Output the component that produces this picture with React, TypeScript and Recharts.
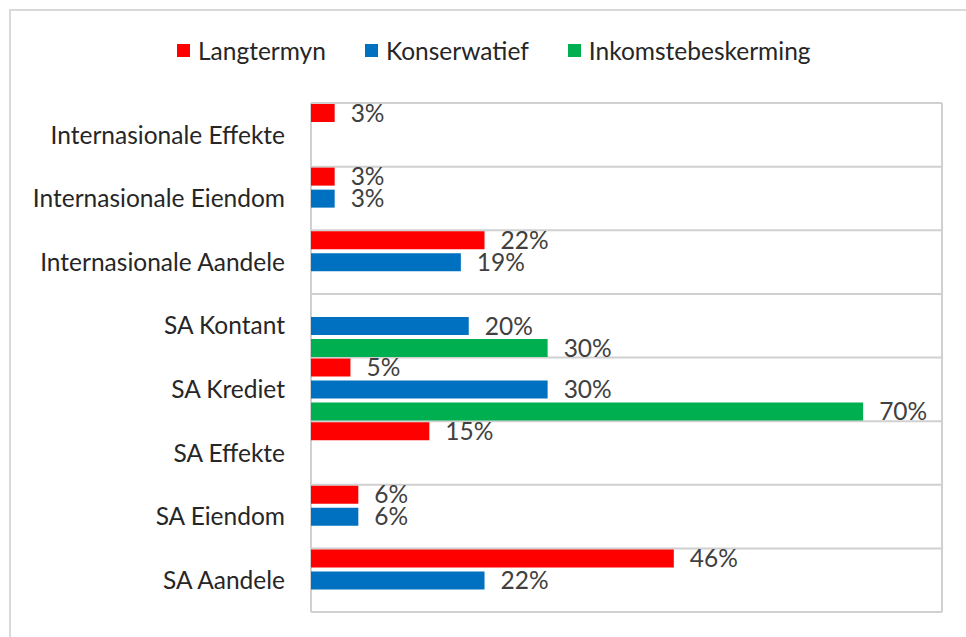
import React from 'react';
import { BarChart, Bar, XAxis, YAxis, CartesianGrid, LabelList } from 'recharts';

const categories = [
  'Internasionale Effekte',
  'Internasionale Eiendom',
  'Internasionale Aandele',
  'SA Kontant',
  'SA Krediet',
  'SA Effekte',
  'SA Eiendom',
  'SA Aandele',
];
const langtermyn = [3, 3, 22, null, 5, 15, 6, 46];
const konserwatief = [null, 3, 19, 20, 30, null, 6, 22];
const inkomstebeskerming = [null, null, null, 30, 70, null, null, null];

const seriesNames = ['Langtermyn', 'Konserwatief', 'Inkomstebeskerming'];
const seriesKeys = ['l', 'k', 'i'];
const seriesColors = ['#FF0000', '#0070C0', '#00B050'];

const data = categories.map((name, idx) => ({
  name,
  l: langtermyn[idx],
  k: konserwatief[idx],
  i: inkomstebeskerming[idx],
}));

const FONT = 'Lato, "Liberation Sans", sans-serif';
const FS = 24.5;
const GRID = '#d0d0d0';

const fmt = (v: any) => (v == null ? '' : `${v}%`);

const LegendBox = () => (
  <div
    style={{
      position: 'absolute',
      left: 177,
      top: 34,
      height: 32,
      display: 'flex',
      alignItems: 'center',
      fontFamily: FONT,
      fontSize: FS,
      color: '#262626',
      whiteSpace: 'nowrap',
    }}
  >
    {seriesNames.map((nm, idx) => (
      <div key={nm} style={{ display: 'flex', alignItems: 'center', marginRight: idx < 2 ? 39 : 0 }}>
        <span style={{ display: 'inline-block', width: 13, height: 13, background: seriesColors[idx], marginRight: 8 }} />
        <span>{nm}</span>
      </div>
    ))}
  </div>
);

export default function App() {
  const n = categories.length;
  return (
    <div style={{ position: 'absolute', left: 0, top: 0, width: 966, height: 637, overflow: 'hidden', background: '#fff' }}>
      <div style={{ position: 'absolute', left: 9, top: 9, width: 1000, height: 700, border: '2px solid #d9d9d9', boxSizing: 'border-box' }} />
      <div style={{ position: 'absolute', left: 0, top: 0 }}>
        <BarChart
          width={966}
          height={637}
          data={data}
          layout="vertical"
          margin={{ top: 103, right: 24, bottom: 25, left: 0 }}
          barCategoryGap={0}
          barGap={4}
          barSize={18}
        >
          <CartesianGrid
            stroke={GRID}
            strokeWidth={2}
            horizontalCoordinatesGenerator={({ offset }: any) =>
              Array.from({ length: n + 1 }, (_, j) => offset.top + (j * offset.height) / n)
            }
            verticalCoordinatesGenerator={({ offset }: any) => [offset.left, offset.left + offset.width]}
          />
          <XAxis type="number" domain={[0, 80]} hide />
          <YAxis
            type="category"
            dataKey="name"
            width={311}
            axisLine={false}
            tickLine={false}
            tickMargin={20}
            interval={0}
            tick={{ fontFamily: FONT, fontSize: FS, fill: '#262626' }}
          />
          {seriesKeys.map((k, idx) => (
            <Bar key={k} dataKey={k} name={seriesNames[idx]} fill={seriesColors[idx]} isAnimationActive={false}>
              <LabelList
                dataKey={k}
                position="right"
                offset={16}
                formatter={fmt}
                style={{ fontFamily: FONT, fontSize: FS, fill: '#404040' }}
              />
            </Bar>
          ))}
        </BarChart>
      </div>
      <LegendBox />
    </div>
  );
}
